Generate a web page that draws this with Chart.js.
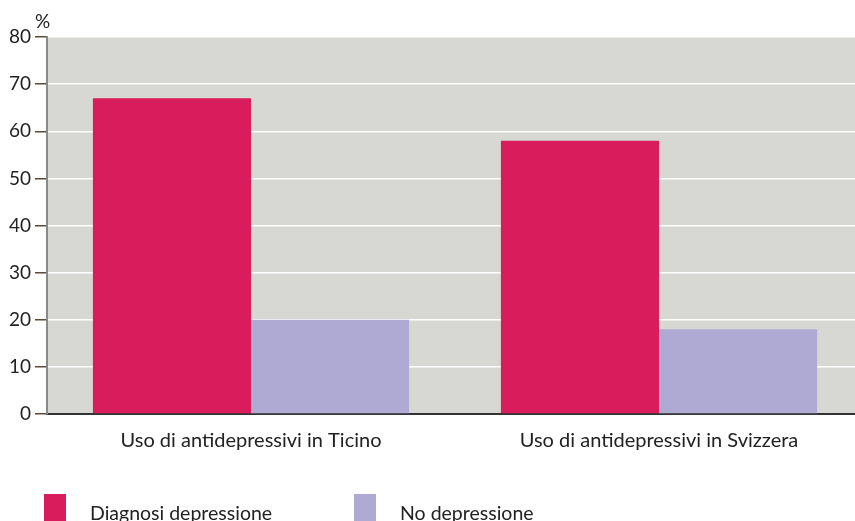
<!DOCTYPE html>
<html><head><meta charset="utf-8">
<script src="https://cdn.jsdelivr.net/npm/chart.js@4/dist/chart.umd.min.js"></script>
<style>
html,body{margin:0;padding:0;background:#fff;width:855px;height:521px;overflow:hidden;font-family:Lato,"Noto Sans",sans-serif;}
#wrap{position:relative;width:855px;height:521px;overflow:hidden;}
#c{position:absolute;left:0;top:0;}
#unit{position:absolute;left:35px;top:9px;font-size:19px;color:#222;}
#legend{position:absolute;left:0;top:494px;width:855px;height:27px;}
.li{position:absolute;top:0;height:27px;}
.sw{position:absolute;left:0;top:0;width:22px;height:27px;}
.lt{position:absolute;left:46px;top:7px;font-size:19.5px;color:#222;white-space:nowrap;}
</style></head>
<body><div id="wrap"><canvas id="c" width="863" height="521"></canvas><div id="unit">%</div><div id="legend"></div></div>
<script>
const categories = ["Uso di antidepressivi in Ticino", "Uso di antidepressivi in Svizzera"];
const seriesNames = ["Diagnosi depressione", "No depressione"];
const diagnosi = [67, 58];
const noDepressione = [20, 18];
const yTicks = [0, 10, 20, 30, 40, 50, 60, 70, 80];
const colors = ["#d91c5c", "#afaad4"];

const bg = {
  id: 'bg',
  beforeDraw(chart){
    const {ctx, chartArea:a} = chart;
    ctx.save(); ctx.fillStyle = '#d7d8d3';
    ctx.fillRect(a.left, a.top, a.right-a.left, a.bottom-a.top);
    ctx.restore();
  }
};

const chart = new Chart(document.getElementById('c'), {
  type: 'bar',
  data: {
    labels: categories,
    datasets: [
      {label: seriesNames[0], data: diagnosi, backgroundColor: colors[0]},
      {label: seriesNames[1], data: noDepressione, backgroundColor: colors[1]}
    ]
  },
  options: {
    responsive: false, animation: false,
    devicePixelRatio: 1,
    layout: {padding: {top: 37, right: 0, left: 0, bottom: 0}},
    plugins: {legend: {display: false}, tooltip: {enabled: false}},
    datasets: {bar: {barPercentage: 1, categoryPercentage: 0.775}},
    scales: {
      x: {
        grid: {display: false, drawTicks: false},
        border: {display: true, color: '#333', width: 2},
        ticks: {padding: 15, color: '#222', font: {family: 'Lato', size: 20}},
        afterFit(s){ s.height = 107; }
      },
      y: {
        min: 0, max: 80,
        afterBuildTicks(s){ s.ticks = yTicks.map(v => ({value: v})); },
        grid: {color: '#ffffff', lineWidth: 1.5, tickColor: '#5b4b36', tickLength: 12, tickWidth: 1.5},
        border: {display: true, color: '#8a8a8a', width: 2},
        ticks: {padding: 4, color: '#222', font: {family: 'Lato', size: 19}},
        afterFit(s){ s.width = 47; }
      }
    }
  },
  plugins: [bg]
});

const legend = document.getElementById('legend');
const legendX = [44, 354];
seriesNames.forEach((n, i) => {
  const d = document.createElement('div'); d.className = 'li'; d.style.left = legendX[i] + 'px';
  d.innerHTML = '<div class="sw" style="background:' + colors[i] + '"></div><div class="lt">' + n + '</div>';
  legend.appendChild(d);
});
</script></body></html>
